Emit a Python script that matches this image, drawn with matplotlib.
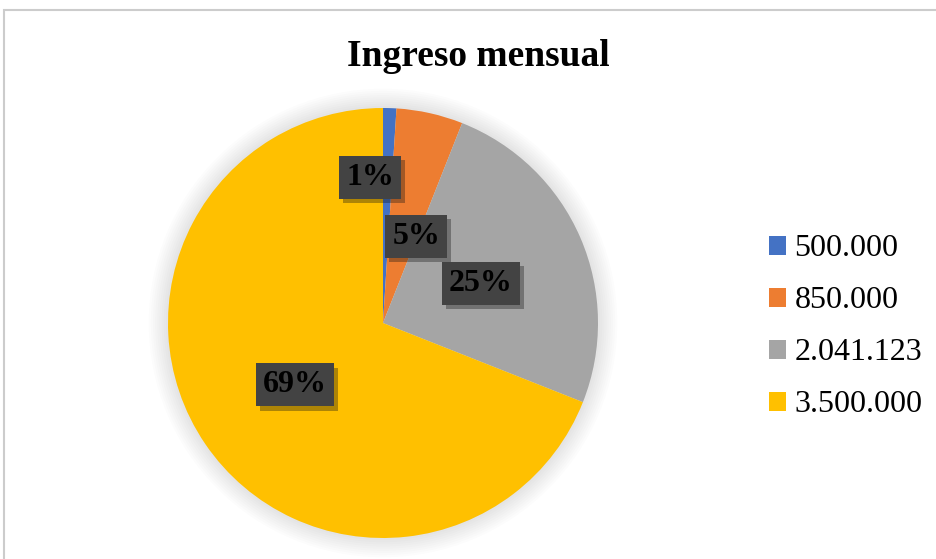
import matplotlib.pyplot as plt
import matplotlib.patheffects as pe
from matplotlib.patches import Rectangle, Circle
import numpy as np

plt.rcParams['font.family'] = ['Liberation Serif', 'DejaVu Serif']

categories = ['500.000', '850.000', '2.041.123', '3.500.000']
shares = [1, 5, 25, 69]
colors = ['#4472C4', '#ED7D31', '#A5A5A5', '#FFC000']

W, H = 937, 559
fig = plt.figure(figsize=(W / 100, H / 100), dpi=100)

# chart frame
fig.patches.append(Rectangle((4 / W, -0.1), 1.2, (H - 10) / H + 0.1,
                             transform=fig.transFigure, fill=False,
                             edgecolor='#cccccc', linewidth=1.5))

cx, cy, r = 383, 323, 215
ax = fig.add_axes([(cx - r) / W, (H - cy - r) / H, 2 * r / W, 2 * r / H])

# soft shadow around the pie
for k in range(10):
    ax.add_patch(Circle((0, 0), 1.0 + 0.01 * k, color='black',
                        alpha=0.012, zorder=0, linewidth=0, clip_on=False))

wedges, texts, autotexts = ax.pie(shares, colors=colors, startangle=90,
                                  counterclock=False, autopct='%d%%',
                                  pctdistance=0.5, radius=1,
                                  wedgeprops=dict(linewidth=0))

# excel "best fit" moves the two small labels
label_pos = {0: (0.68, -5.0), 1: (0.43, 21.0), 2: (0.49, 67.8), 3: (0.5, 234.8)}
for i, t in enumerate(autotexts):
    rr, ang = label_pos[i]
    a = np.deg2rad(90 - ang)
    t.set_position((rr * np.cos(a), rr * np.sin(a)))
    t.set_fontsize(23)
    t.set_fontweight('bold')
    t.set_color('black')
    t.set_bbox(dict(boxstyle='square,pad=0.22', facecolor='#434343',
                    edgecolor='none', linewidth=0))
    t.get_bbox_patch().set_path_effects(
        [pe.SimplePatchShadow(offset=(3, -3), alpha=0.35), pe.Normal()])

ax.set_xlim(-1, 1)
ax.set_ylim(-1, 1)
ax.set_aspect('equal')
ax.axis('off')

fig.text(478 / W, 1 - 57 / H, 'Ingreso mensual', ha='center', va='center',
         fontsize=27, fontweight='bold')

handles = [Rectangle((0, 0), 1, 1, facecolor=c) for c in colors]
fig.legend(handles, categories, loc='center left',
           bbox_to_anchor=(740 / W, 1 - 327 / H), frameon=False,
           fontsize=23, handlelength=0.55, handleheight=0.55,
           handletextpad=0.25, labelspacing=0.72)

fig.savefig('out.png', dpi=100, facecolor='white')
